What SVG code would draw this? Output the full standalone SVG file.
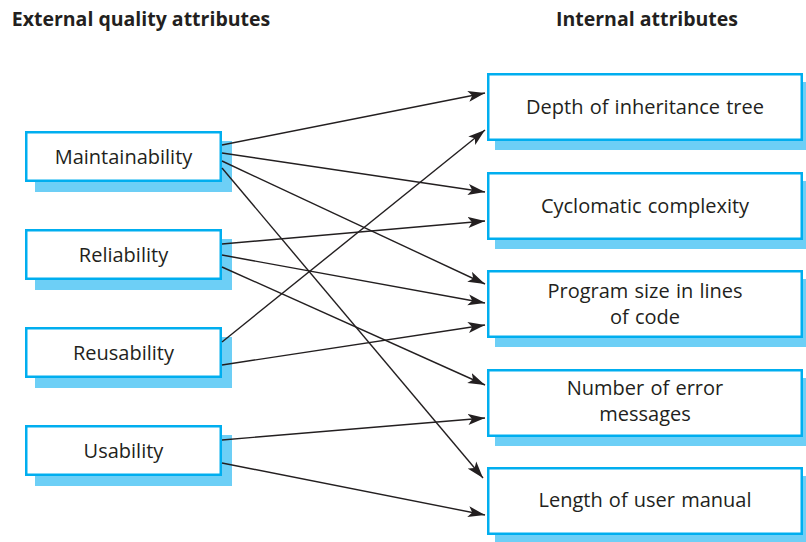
<svg xmlns="http://www.w3.org/2000/svg" width="806" height="542" viewBox="0 0 806 542">
<defs>
<style>
.box{fill:#fff;stroke:#00AEEF;stroke-width:2.5}
.sh{fill:#6DCFF6}
.t{font-family:"Open Sans","Liberation Sans",sans-serif;font-size:20px;fill:#231F20;text-anchor:middle;word-spacing:1px}
.h{font-family:"Open Sans","Liberation Sans",sans-serif;font-size:19.5px;font-weight:bold;fill:#231F20;text-anchor:middle}
.c{stroke:#231F20;stroke-width:1.4;fill:none;marker-end:url(#ah)}
</style>
<marker id="ah" markerUnits="userSpaceOnUse" markerWidth="18" markerHeight="12" viewBox="0 0 18 12" refX="17" refY="6" orient="auto">
<path d="M0,0.5 L17,6 L0,11.5 L4,6 Z" fill="#231F20"/>
</marker>
</defs>
<rect width="806" height="542" fill="#fff"/>
<text class="h" x="141" y="26">External quality attributes</text>
<text class="h" x="647" y="26">Internal attributes</text>

<g id="maintainability">
<rect class="sh" x="35" y="141" width="197" height="51"/>
<rect class="box" x="26.25" y="132.25" width="194.5" height="48.5"/>
<text class="t" x="123.5" y="164">Maintainability</text>
</g>
<g id="reliability">
<rect class="sh" x="35" y="239" width="197" height="51"/>
<rect class="box" x="26.25" y="230.25" width="194.5" height="48.5"/>
<text class="t" x="123.5" y="262">Reliability</text>
</g>
<g id="reusability">
<rect class="sh" x="35" y="337" width="197" height="51"/>
<rect class="box" x="26.25" y="328.25" width="194.5" height="48.5"/>
<text class="t" x="123.5" y="360">Reusability</text>
</g>
<g id="usability">
<rect class="sh" x="35" y="435" width="197" height="51"/>
<rect class="box" x="26.25" y="426.25" width="194.5" height="48.5"/>
<text class="t" x="123.5" y="458">Usability</text>
</g>

<g id="depth">
<rect class="sh" x="495" y="82" width="320" height="68"/>
<rect class="box" x="488.25" y="74.25" width="313.5" height="65.5"/>
<text class="t" x="645" y="114">Depth of inheritance tree</text>
</g>
<g id="cyclomatic">
<rect class="sh" x="495" y="181" width="320" height="68"/>
<rect class="box" x="488.25" y="173.25" width="313.5" height="65.5"/>
<text class="t" x="645" y="213">Cyclomatic complexity</text>
</g>
<g id="program-size">
<rect class="sh" x="495" y="279" width="320" height="68"/>
<rect class="box" x="488.25" y="271.25" width="313.5" height="65.5"/>
<text class="t" x="645" y="298">Program size in lines</text>
<text class="t" x="645" y="324">of code</text>
</g>
<g id="error-messages">
<rect class="sh" x="495" y="378" width="320" height="68"/>
<rect class="box" x="488.25" y="370.25" width="313.5" height="65.5"/>
<text class="t" x="645" y="395">Number of error</text>
<text class="t" x="645" y="421">messages</text>
</g>
<g id="user-manual">
<rect class="sh" x="495" y="476" width="320" height="68"/>
<rect class="box" x="488.25" y="468.25" width="313.5" height="65.5"/>
<text class="t" x="645" y="507">Length of user manual</text>
</g>

<g id="connectors">
<line class="c" x1="222" y1="145" x2="485" y2="93"/>
<line class="c" x1="222" y1="153" x2="485" y2="192"/>
<line class="c" x1="222" y1="161" x2="485" y2="284"/>
<line class="c" x1="222" y1="168" x2="483" y2="478"/>
<line class="c" x1="222" y1="244" x2="485" y2="221"/>
<line class="c" x1="222" y1="255" x2="485" y2="303"/>
<line class="c" x1="222" y1="267" x2="485" y2="385"/>
<line class="c" x1="222" y1="342" x2="485" y2="130"/>
<line class="c" x1="222" y1="365" x2="485" y2="325"/>
<line class="c" x1="222" y1="440" x2="485" y2="418"/>
<line class="c" x1="222" y1="463" x2="485" y2="515"/>
</g>
</svg>
